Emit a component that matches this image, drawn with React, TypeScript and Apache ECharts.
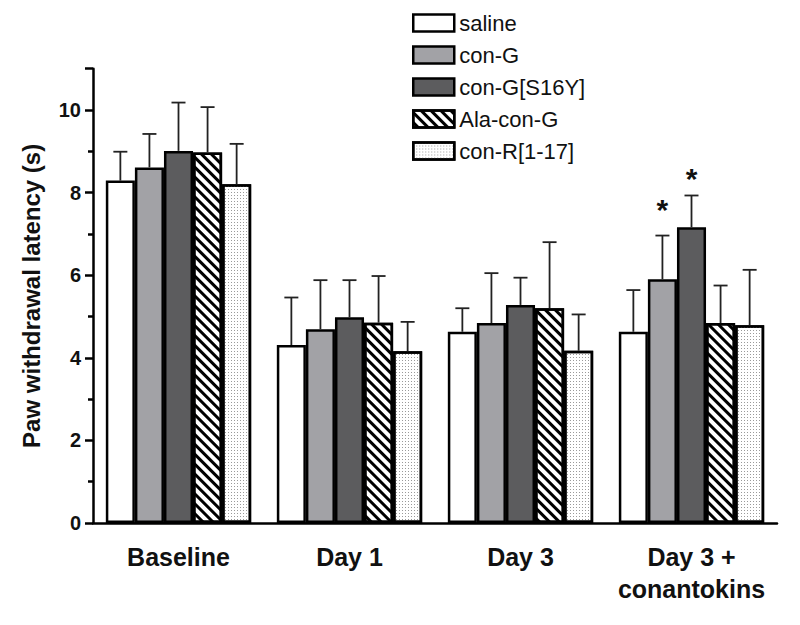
import React, { useEffect, useRef } from "react";
import * as echarts from "echarts";

const categories = ["Baseline", "Day 1", "Day 3", "Day 3 +\nconantokins"];
const seriesNames = ["saline", "con-G", "con-G[S16Y]", "Ala-con-G", "con-R[1-17]"];

const salineMean = [8.29, 4.31, 4.63, 4.63];
const salineErr = [0.7, 1.15, 0.57, 1.01];
const conGMean = [8.61, 4.69, 4.84, 5.9];
const conGErr = [0.81, 1.19, 1.21, 1.06];
const s16yMean = [9.01, 4.98, 5.28, 7.16];
const s16yErr = [1.17, 0.9, 0.66, 0.77];
const alaMean = [8.97, 4.85, 5.2, 4.84];
const alaErr = [1.1, 1.13, 1.6, 0.91];
const conRMean = [8.2, 4.16, 4.17, 4.79];
const conRErr = [0.98, 0.71, 0.88, 1.34];

// significance star heights (y value) per series, null = none
const starLevels: (number | null)[][] = [
  [null, null, null, null],
  [null, null, null, 7.6],
  [null, null, null, 8.33],
  [null, null, null, null],
  [null, null, null, null],
];

const means = [salineMean, conGMean, s16yMean, alaMean, conRMean];
const errs = [salineErr, conGErr, s16yErr, alaErr, conRErr];

const yMin = 0;
const yMax = 11;
const yInterval = 2;

const FONT = "'Liberation Sans', Arial, Helvetica, sans-serif";
const CAT_GAP = 0.15;

export default function App() {
  const ref = useRef<HTMLDivElement>(null);
  useEffect(() => {
    if (!ref.current) return;
    const chart = echarts.init(ref.current, undefined, { renderer: "svg" });

    const barStyles: any[] = [
      { color: "#ffffff" },
      { color: "#a2a2a6" },
      { color: "#5c5c5e" },
      {
        color: "#ffffff",
        decal: {
          symbol: "rect",
          symbolSize: 1,
          dashArrayX: [1, 0],
          dashArrayY: [3, 4],
          rotation: Math.PI / 4,
          color: "#000000",
        },
      },
      {
        color: "#ffffff",
        decal: {
          symbol: "rect",
          symbolSize: 1,
          dashArrayX: [1, 2],
          dashArrayY: [1, 2],
          rotation: 0,
          color: "#9a9a9a",
        },
      },
    ];

    const barSeries = seriesNames.map((name, i) => ({
      name,
      type: "bar",
      data: means[i],
      barGap: "0%",
      barCategoryGap: CAT_GAP * 100 + "%",
      itemStyle: { ...barStyles[i], borderColor: "#000", borderWidth: 2.5 },
      emphasis: { disabled: true },
      z: 2,
    }));

    const errData: number[][] = [];
    means.forEach((arr, s) => {
      arr.forEach((v, c) => {
        errData.push([c, s, v, errs[s][c]]);
      });
    });

    const starData: number[][] = [];
    starLevels.forEach((arr, s) => {
      arr.forEach((v, c) => {
        if (v != null) starData.push([c, s, v]);
      });
    });

    const option: any = {
      animation: false,
      grid: { left: 93, right: 23, top: 68.7, bottom: 102, containLabel: false },
      legend: {
        data: seriesNames,
        orient: "vertical",
        left: 412,
        top: 12,
        padding: 0,
        itemWidth: 41,
        itemHeight: 17,
        itemGap: 10,
        selectedMode: false,
        icon: "rect",
        itemStyle: { borderColor: "#000", borderWidth: 2.5 },
        textStyle: { fontSize: 22, lineHeight: 20, fontFamily: FONT, color: "#111" },
      },
      xAxis: {
        type: "category",
        data: categories,
        axisLine: { lineStyle: { color: "#000", width: 2.5 } },
        axisTick: { alignWithLabel: true, length: 7, lineStyle: { color: "#000", width: 2.5 } },
        axisLabel: {
          fontSize: 25,
          fontWeight: "bold",
          fontFamily: FONT,
          color: "#111",
          margin: 18,
          lineHeight: 32,
          interval: 0,
        },
      },
      yAxis: {
        type: "value",
        min: yMin,
        max: yMax,
        interval: yInterval,
        name: "Paw withdrawal latency (s)",
        nameLocation: "middle",
        nameGap: 50,
        nameTextStyle: { fontSize: 24, fontWeight: "bold", fontFamily: FONT, color: "#111" },
        axisLine: { show: true, lineStyle: { color: "#000", width: 2.5 } },
        axisTick: { show: true, length: 8, lineStyle: { color: "#000", width: 2.5 } },
        minorTick: { show: true, splitNumber: 2, length: 5, lineStyle: { color: "#000", width: 2.5 } },
        splitLine: { show: false },
        axisLabel: {
          fontSize: 20,
          fontWeight: "bold",
          fontFamily: FONT,
          color: "#111",
          margin: 12,
          showMaxLabel: false,
        },
      },
      series: [
        ...barSeries,
        {
          type: "custom",
          name: "err",
          data: errData,
          z: 3,
          silent: true,
          encode: { x: 0, y: 2 },
          renderItem: (params: any, api: any) => {
            const c = api.value(0);
            const s = api.value(1);
            const v = api.value(2);
            const e = api.value(3);
            const band = api.size([1, 0])[0];
            const bw = (band * (1 - CAT_GAP)) / seriesNames.length;
            const base = api.coord([c, v]);
            const x = base[0] + (s - (seriesNames.length - 1) / 2) * bw;
            const top = api.coord([c, v + e])[1];
            const cap = 7;
            const st = { stroke: "#222", lineWidth: 1.8 };
            return {
              type: "group",
              children: [
                { type: "line", shape: { x1: x, y1: base[1], x2: x, y2: top }, style: st },
                { type: "line", shape: { x1: x - cap, y1: top, x2: x + cap, y2: top }, style: st },
              ],
            };
          },
        },
        {
          type: "custom",
          name: "stars",
          data: starData,
          z: 4,
          silent: true,
          encode: { x: 0, y: 2 },
          renderItem: (params: any, api: any) => {
            const c = api.value(0);
            const s = api.value(1);
            const v = api.value(2);
            const band = api.size([1, 0])[0];
            const bw = (band * (1 - CAT_GAP)) / seriesNames.length;
            const p = api.coord([c, v]);
            const x = p[0] + (s - (seriesNames.length - 1) / 2) * bw;
            return {
              type: "text",
              x,
              y: p[1],
              style: {
                text: "*",
                fontSize: 30,
                fontWeight: "bold",
                fontFamily: FONT,
                fill: "#111",
                align: "center",
                verticalAlign: "middle",
              },
            };
          },
        },
      ],
    };

    chart.setOption(option);
    return () => chart.dispose();
  }, []);

  return (
    <div
      ref={ref}
      style={{ position: "fixed", left: 0, top: 0, width: 800, height: 625, background: "#fff" }}
    />
  );
}
